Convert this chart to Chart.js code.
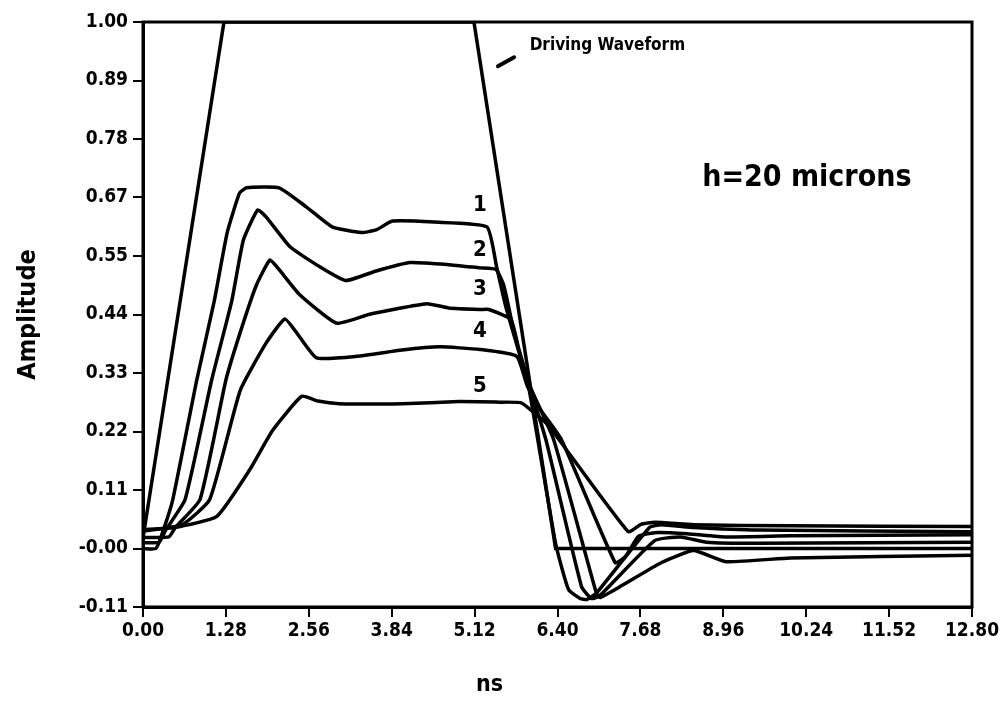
<!DOCTYPE html>
<html>
<head>
<meta charset="utf-8">
<script src="https://cdn.jsdelivr.net/npm/chart.js@4.4.1/dist/chart.umd.min.js"></script>
<style>
  body { margin: 0; background: #fff; }
</style>
</head>
<body>
<canvas id="wave-chart" width="1006" height="709"></canvas>
<script>
/* ============================================= */
/*                     Data                      */
/* ============================================= */

const tickX = ['0.00', '1.28', '2.56', '3.84', '5.12', '6.40', '7.68', '8.96', '10.24', '11.52', '12.80'];
const tickY = ['-0.11', '-0.00', '0.11', '0.22', '0.33', '0.44', '0.55', '0.67', '0.78', '0.89', '1.00'];

const curveNames = ['1', '2', '3', '4', '5'];

// driving waveform (ns, amplitude)
const drvT = [0, 1.25, 5.11, 6.37, 12.8];
const drvA = [0.02, 1.0, 1.0, 0.0, 0.0];

const c1T = [0, 0.2, 0.3, 0.46, 0.83, 1.1, 1.3, 1.49, 1.6, 2.1, 2.52, 2.92, 3.37, 3.6, 3.85, 4.5, 5.31, 5.46, 5.6, 5.8, 5.95, 6.37, 6.57, 6.75, 6.85, 7.0, 7.82, 8.0, 8.5, 9.5, 12.8];
const c1A = [0.0, 0.0, 0.03, 0.093, 0.32, 0.47, 0.6, 0.675, 0.685, 0.685, 0.649, 0.611, 0.6, 0.605, 0.622, 0.62, 0.611, 0.535, 0.46, 0.375, 0.31, 0.01, -0.078, -0.095, -0.097, -0.085, 0.04, 0.045, 0.04, 0.035, 0.032];

const c2T = [0, 0.25, 0.35, 0.65, 1.06, 1.37, 1.55, 1.77, 1.9, 2.27, 2.73, 3.13, 3.6, 4.12, 4.72, 5.2, 5.45, 5.57, 5.75, 5.95, 6.22, 6.77, 6.92, 7.05, 7.9, 8.3, 8.7, 9.5, 12.8];
const c2A = [0.011, 0.012, 0.035, 0.093, 0.32, 0.47, 0.586, 0.643, 0.63, 0.573, 0.535, 0.509, 0.527, 0.543, 0.539, 0.533, 0.53, 0.5, 0.4, 0.315, 0.207, -0.072, -0.095, -0.09, 0.015, 0.022, 0.012, 0.01, 0.012];

const c3T = [0, 0.4, 0.5, 0.88, 1.28, 1.5, 1.75, 1.96, 2.1, 2.42, 2.99, 3.5, 4.38, 4.72, 5.2, 5.34, 5.68, 5.8, 5.97, 6.34, 7.0, 7.06, 7.4, 8.0, 8.5, 9.0, 10.0, 12.8];
const c3A = [0.021, 0.022, 0.04, 0.093, 0.32, 0.41, 0.5, 0.548, 0.53, 0.482, 0.428, 0.445, 0.465, 0.457, 0.454, 0.454, 0.435, 0.38, 0.31, 0.207, -0.085, -0.093, -0.07, -0.027, -0.004, -0.025, -0.018, -0.013];

const c4T = [0, 0.6, 1.03, 1.5, 1.9, 2.19, 2.4, 2.68, 3.3, 4.0, 4.58, 5.2, 5.77, 5.93, 6.1, 6.46, 7.29, 7.45, 7.65, 7.9, 8.4, 9.0, 10.0, 12.8];
const c4A = [0.033, 0.045, 0.093, 0.3, 0.39, 0.436, 0.405, 0.362, 0.365, 0.377, 0.383, 0.378, 0.365, 0.31, 0.27, 0.207, -0.027, -0.015, 0.023, 0.03, 0.028, 0.022, 0.024, 0.026];

const c5T = [0, 0.5, 1.14, 1.65, 2.0, 2.45, 2.7, 3.03, 4.0, 4.88, 5.5, 5.83, 6.0, 6.25, 7.49, 7.69, 7.9, 8.5, 10.0, 12.8];
const c5A = [0.036, 0.04, 0.061, 0.15, 0.224, 0.289, 0.28, 0.275, 0.275, 0.279, 0.278, 0.277, 0.262, 0.235, 0.032, 0.046, 0.05, 0.045, 0.043, 0.042];

const curveT = [c1T, c2T, c3T, c4T, c5T];
const curveA = [c1A, c2A, c3A, c4A, c5A];

/* ============================================= */
/*                   Chart                       */
/* ============================================= */

const FONT = "'DejaVu Sans Condensed', 'Liberation Sans Narrow', 'DejaVu Sans', sans-serif";
Chart.defaults.font.family = FONT;
Chart.defaults.color = '#000';

const toPoints = (ts, as) => ts.map((t, i) => ({ x: t, y: as[i] }));

const lineStyle = {
    borderColor: '#000',
    borderWidth: 3.5,
    pointRadius: 0,
    tension: 0.15,
    fill: false
};

let datasets = [{ label: 'Driving Waveform', data: toPoints(drvT, drvA), ...lineStyle, tension: 0 }];
curveNames.forEach((n, i) => {
    datasets.push({ label: n, data: toPoints(curveT[i], curveA[i]), ...lineStyle });
});

// frame + annotations
const overlay = {
    id: 'overlay',
    afterDatasetsDraw(chart) {
        const { ctx, chartArea: a, scales: { x, y } } = chart;
        ctx.save();
        ctx.strokeStyle = '#000';
        ctx.lineWidth = 3;
        ctx.strokeRect(a.left, a.top, a.width, a.height);

        ctx.fillStyle = '#000';
        ctx.textBaseline = 'middle';

        // curve numbers
        const labelA = [0.651, 0.567, 0.493, 0.412, 0.309];
        ctx.font = 'bold 22px ' + FONT;
        ctx.textAlign = 'center';
        curveNames.forEach((n, i) => {
            ctx.fillText(n, x.getPixelForValue(5.2), y.getPixelForValue(labelA[i]));
        });

        ctx.font = 'bold 30px ' + FONT;
        ctx.fillText('h=20 microns', x.getPixelForValue(10.25), y.getPixelForValue(0.704));

        // x axis title sits left of centre in the original
        ctx.font = 'bold 23px ' + FONT;
        ctx.fillText('ns', x.getPixelForValue(5.35), a.bottom + 78);

        ctx.font = 'bold 17px ' + FONT;
        ctx.textAlign = 'left';
        ctx.fillText('Driving Waveform', x.getPixelForValue(5.97), y.getPixelForValue(0.955));

        // little arrow mark
        ctx.lineWidth = 4;
        ctx.lineCap = 'round';
        ctx.beginPath();
        ctx.moveTo(x.getPixelForValue(5.48), y.getPixelForValue(0.916));
        ctx.lineTo(x.getPixelForValue(5.73), y.getPixelForValue(0.933));
        ctx.stroke();
        ctx.restore();
    }
};

const waveCanvas = document.getElementById('wave-chart');

let waveChart = new Chart(waveCanvas, {
    type: 'line',
    data: { datasets: datasets },
    options: {
        responsive: false,
        animation: false,
        layout: { padding: { top: 22, right: 34, left: 0, bottom: 0 } },
        plugins: {
            legend: { display: false },
            tooltip: { enabled: false }
        },
        scales: {
            x: {
                type: 'linear',
                min: 0,
                max: 12.8,
                afterFit: s => { s.height = 102; },
                afterBuildTicks: s => { s.ticks = tickX.map(l => ({ value: parseFloat(l) })); },
                ticks: {
                    callback: (v, i) => tickX[i],
                    font: { size: 19, weight: 'bold' },
                    padding: 3,
                    maxRotation: 0,
                    autoSkip: false
                },
                grid: { drawOnChartArea: false, color: '#000', lineWidth: 2, tickLength: 10 },
                border: { color: '#000', width: 3 }
            },
            y: {
                type: 'linear',
                min: -1 / 9,
                max: 1,
                afterFit: s => { s.width = 143; },
                afterBuildTicks: s => { s.ticks = tickY.map((l, i) => ({ value: -1 / 9 + i / 9 })); },
                ticks: {
                    callback: (v, i) => tickY[i],
                    font: { size: 19, weight: 'bold' },
                    padding: 5,
                    autoSkip: false
                },
                grid: { drawOnChartArea: false, color: '#000', lineWidth: 2, tickLength: 10 },
                border: { color: '#000', width: 3 },
                title: {
                    display: true,
                    text: 'Amplitude',
                    font: { size: 25, weight: 'bold' },
                    padding: { top: 13 }
                }
            }
        }
    },
    plugins: [overlay]
});
</script>
</body>
</html>
